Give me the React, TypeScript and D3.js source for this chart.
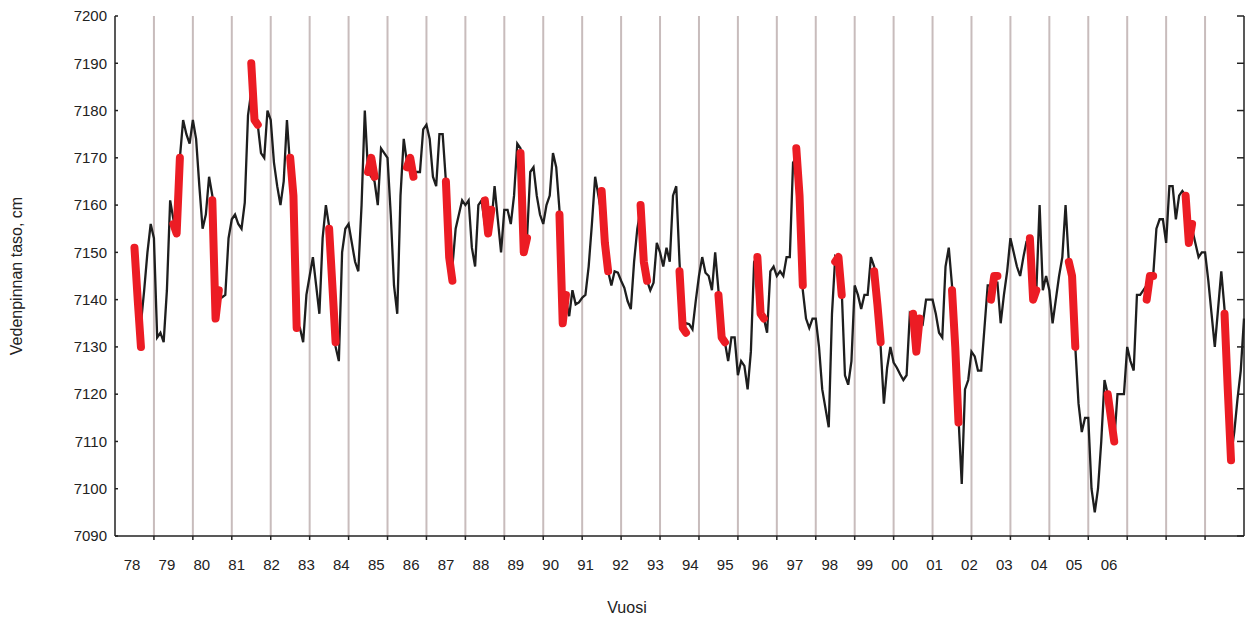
import React from "react";
import * as d3 from "d3";

// Month index (0 = Jan 1978) of the first black value
const startMonth = 6;
// Monthly water level, cm (black line), months 6..348
const levels: number[] = [
  7150, 7140, 7135, 7142, 7150, 7156, 7153, 7132, 7133, 7131, 7142, 7161, 7157, 7155, 7170, 7178, 7175, 7173, 7178, 7174,
  7164, 7155, 7158, 7166, 7162, 7137, 7140, 7140.5, 7141, 7153, 7157, 7158, 7156, 7155, 7160.5, 7179, 7184, 7178, 7177, 7171,
  7170, 7180, 7178, 7169, 7164, 7160, 7165, 7178, 7168, 7160, 7135, 7134, 7131, 7141, 7145, 7149, 7143, 7137, 7153, 7160,
  7155.5, 7143, 7130, 7127, 7150, 7155, 7156, 7152, 7148, 7146, 7160, 7180, 7167, 7166, 7165, 7160, 7172, 7171, 7170, 7158,
  7143, 7137, 7162, 7174, 7169, 7168, 7167, 7167, 7167, 7176, 7177, 7174, 7166, 7164, 7175, 7175, 7165, 7149, 7147, 7155,
  7158, 7161, 7160, 7161, 7151, 7147, 7160, 7161, 7156, 7157, 7156, 7164, 7157, 7150, 7159, 7159, 7156, 7162, 7173, 7172,
  7152, 7153, 7167, 7168, 7162, 7158, 7156, 7160, 7162, 7171, 7168, 7159, 7136, 7140, 7136.5, 7142, 7139, 7139.4, 7140.4, 7141,
  7147, 7156, 7166, 7162, 7158, 7150, 7146, 7143, 7146, 7145.7, 7144, 7142.5, 7139.7, 7138, 7148, 7155, 7159, 7148, 7144, 7142,
  7143.6, 7152, 7150, 7147, 7151, 7148, 7162, 7164, 7148, 7135, 7135, 7134.8, 7133.7, 7139.7, 7145, 7149, 7145.7, 7145, 7142, 7150,
  7142, 7133, 7131, 7127, 7132, 7132, 7124, 7127, 7126, 7121, 7129, 7148, 7149, 7137, 7136, 7133, 7146, 7147, 7145, 7146,
  7145, 7149, 7149, 7169, 7170, 7162, 7142, 7136, 7134, 7136, 7136, 7130, 7121, 7117, 7113, 7137, 7149, 7148, 7142, 7124,
  7122, 7127, 7143, 7141, 7138, 7141, 7141, 7149, 7147, 7140, 7130, 7118, 7125.6, 7130, 7126.7, 7125.6, 7124.2, 7123, 7124, 7137,
  7136, 7130, 7136, 7135, 7140, 7140, 7140, 7137, 7133, 7132, 7147, 7151, 7143, 7130, 7115, 7101, 7121, 7123, 7129, 7128,
  7125, 7125, 7134, 7143, 7143, 7143.6, 7143.6, 7135, 7141, 7146, 7153, 7150, 7147, 7145, 7149, 7152.4, 7150, 7141, 7142, 7160,
  7142, 7145, 7142, 7135, 7140, 7145, 7149, 7160, 7148, 7145, 7130, 7118, 7112, 7115, 7115, 7100, 7095, 7100, 7110, 7123,
  7120, 7115, 7110, 7120, 7120, 7120, 7130, 7127, 7125, 7141, 7141, 7142, 7143, 7145, 7145, 7155, 7157, 7157, 7152, 7164,
  7164, 7157, 7162, 7163, 7162, 7155, 7155, 7152, 7149, 7150, 7150, 7144, 7137, 7130, 7138, 7146, 7138, 7120, 7107, 7112,
  7119, 7125, 7136,
];

// Red highlighted periods: first month index of each, and its three values
const redStarts: number[] = [6, 18, 30, 42, 54, 66, 78, 90, 102, 114, 125, 137, 150, 162, 174, 186, 198, 210, 222, 234, 246, 258, 270, 282, 294, 306, 318, 330, 342];
const redValues: number[][] = [
  [7151, 7140, 7130], [7156, 7154, 7170], [7161, 7136, 7142], [7190, 7178, 7177], [7170, 7162, 7134],
  [7155, 7143, 7131], [7167, 7170, 7166], [7168, 7170, 7166], [7165, 7149, 7144], [7161, 7154, 7159],
  [7171, 7150, 7153], [7158, 7135, 7141], [7163, 7152, 7146], [7160, 7148, 7144], [7146, 7134, 7133],
  [7141, 7132, 7131], [7149, 7137, 7136], [7172, 7162, 7143], [7148, 7149, 7141], [7146, 7139, 7131],
  [7137, 7129, 7136], [7142, 7130, 7114], [7140, 7145, 7145], [7153, 7140, 7142], [7148, 7145, 7130],
  [7120, 7115, 7110], [7140, 7145, 7145], [7162, 7152, 7156], [7137, 7121, 7106],
];

const yearLabels: string[] = ["78","79","80","81","82","83","84","85","86","87","88","89","90","91","92","93","94","95","96","97","98","99","00","01","02","03","04","05","06"];
const yTicks: number[] = d3.range(7090, 7201, 10);
const totalMonths = 348;
const gridMonths: number[] = d3.range(12, totalMonths, 12);

export default function App() {
  const W = 1245, H = 619;
  const x = d3.scaleLinear().domain([0, totalMonths]).range([115, 1244]);
  const y = d3.scaleLinear().domain([7090, 7200]).range([536, 16]);
  const lx = d3.scalePoint<string>().domain(yearLabels).range([132, 1109]);

  const blackData = levels.map((v, i) => [startMonth + i, v] as [number, number]);
  const line = d3.line<[number, number]>().x(d => x(d[0])).y(d => y(d[1]));
  const redPaths = redStarts.map((s, k) => line(redValues[k].map((v, j) => [s + j, v] as [number, number])) || "");

  const font = "Liberation Sans, Arial, sans-serif";
  return (
    <svg width={W} height={H} style={{ position: "absolute", left: 0, top: 0, background: "#fff" }} fontFamily={font}>
      {gridMonths.map(m => (
        <line key={m} x1={x(m)} x2={x(m)} y1={y(7200)} y2={y(7090)} stroke="#c8bcbc" strokeWidth={2} />
      ))}
      <path d={line(blackData) || ""} fill="none" stroke="#1e1e1e" strokeWidth={2.3} strokeLinejoin="miter" />
      {redPaths.map((d, i) => (
        <path key={i} d={d} fill="none" stroke="#ec1c24" strokeWidth={8} strokeLinecap="round" strokeLinejoin="round" />
      ))}
      {/* axes */}
      <line x1={115} x2={115} y1={y(7200)} y2={y(7090)} stroke="#222" strokeWidth={1.5} />
      <line x1={1244} x2={1244} y1={y(7200)} y2={y(7090)} stroke="#222" strokeWidth={1.5} />
      <line x1={115} x2={1244} y1={y(7090)} y2={y(7090)} stroke="#222" strokeWidth={1.5} />
      {yTicks.map(t => (
        <g key={t}>
          <line x1={115} x2={118} y1={y(t)} y2={y(t)} stroke="#222" strokeWidth={1.5} />
          <line x1={1237} x2={1244} y1={y(t)} y2={y(t)} stroke="#222" strokeWidth={1.5} />
          <text x={107} y={y(t)} dy="0.35em" textAnchor="end" fontSize={15} fill="#222">{t}</text>
        </g>
      ))}
      {gridMonths.map(m => (
        <line key={"t" + m} x1={x(m)} x2={x(m)} y1={536} y2={540} stroke="#222" strokeWidth={1.5} />
      ))}
      {yearLabels.map(l => (
        <text key={l} x={lx(l)} y={570} textAnchor="middle" fontSize={15} fill="#222">{l}</text>
      ))}
      <text x={627} y={613} textAnchor="middle" fontSize={16} fill="#222">Vuosi</text>
      <text transform="translate(22,276) rotate(-90)" textAnchor="middle" fontSize={16} fill="#222">Vedenpinnan taso, cm</text>
    </svg>
  );
}
